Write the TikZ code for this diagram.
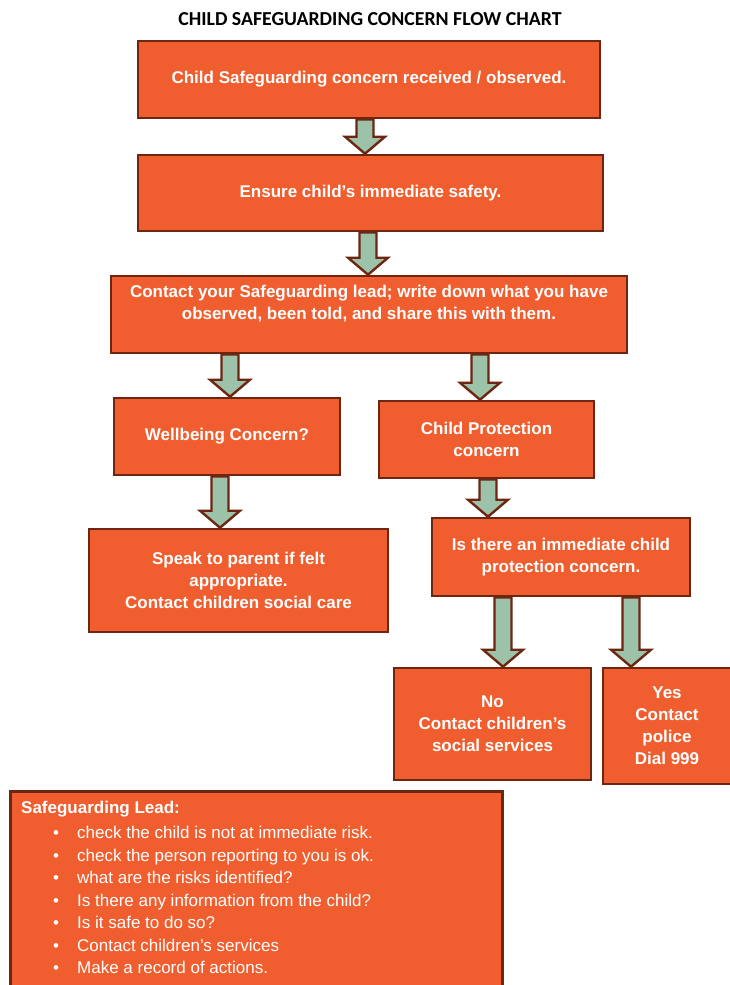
\documentclass[tikz,border=0pt]{standalone}
\usepackage{fontspec}
\setmainfont{Liberation Sans}
\newfontfamily\calibrifont{Carlito}
\usetikzlibrary{calc}
\definecolor{boxfill}{RGB}{240,94,47}
\definecolor{boxline}{RGB}{108,38,18}
\definecolor{arrfill}{RGB}{157,194,170}
\tikzset{
  x=1pt, y=1pt,
  fbox/.style={draw=boxline, line width=2.6pt, fill=boxfill, text=white, align=center,
    font=\fontsize{17}{22}\selectfont\bfseries, inner sep=2pt},
  btext/.style={text=white, align=center, font=\fontsize{17}{22}\selectfont\bfseries, inner sep=0pt},
  barrow/.style={draw=boxline, line width=2.4pt, fill=arrfill, line join=miter},
}
% #1 x position, #2 upper node, #3 lower node
\newcommand\blockarr[3]{%
  \draw[barrow] let \p1=(#2.south), \p2=(#3.north) in
    (#1-8.5,\y1) -- (#1-8.5,\y2+17) -- (#1-20,\y2+17) -- (#1,\y2) --
    (#1+20,\y2+17) -- (#1+8.5,\y2+17) -- (#1+8.5,\y1) -- cycle;}
\begin{document}
\begin{tikzpicture}
\useasboundingbox (0,0) rectangle (729,-985);
\node[font=\calibrifont\fontsize{19.8}{22}\selectfont\bfseries] (title) at (370,-19) {CHILD SAFEGUARDING CONCERN FLOW CHART};

\node[fbox, minimum width=462, minimum height=77] (b1) at (369,-79.5) {Child Safeguarding concern received / observed.};
\node[fbox, minimum width=465, minimum height=76] (b2) at (370.5,-193) {Ensure child’s immediate safety.};
\node[fbox, minimum width=516, minimum height=77] (b3) at (369,-314.5) {};
\node[btext] (b3t) at (369,-304) {Contact your Safeguarding lead; write down what you have\\observed, been told, and share this with them.};
\node[fbox, minimum width=226, minimum height=77] (b4) at (227,-436.5) {Wellbeing Concern?};
\node[fbox, minimum width=215, minimum height=77] (b5) at (486.5,-439.5) {Child Protection\\concern};
\node[fbox, minimum width=299, minimum height=103] (b6) at (238.5,-580.5) {Speak to parent if felt\\appropriate.\\Contact children social care};
\node[fbox, minimum width=258, minimum height=78] (b7) at (561,-557) {Is there an immediate child\\protection concern.};
\node[fbox, minimum width=197, minimum height=112] (b8) at (492.5,-724) {No\\Contact children’s\\social services};
\node[fbox, minimum width=128, minimum height=116] (b9) at (667,-726) {Yes\\Contact\\police\\Dial 999};
\node[fbox, minimum width=492, minimum height=210, anchor=north west] (b10) at (9,-790) {};

\node[anchor=north west, text=white, align=left, inner sep=0pt,
  font=\fontsize{17}{22.5}\selectfont] (lead) at (21,-801)
 {\textbf{Safeguarding Lead:}\\[2.5pt]
  \hspace*{32pt}\makebox[24pt][l]{•}check the child is not at immediate risk.\\
  \hspace*{32pt}\makebox[24pt][l]{•}check the person reporting to you is ok.\\
  \hspace*{32pt}\makebox[24pt][l]{•}what are the risks identified?\\
  \hspace*{32pt}\makebox[24pt][l]{•}Is there any information from the child?\\
  \hspace*{32pt}\makebox[24pt][l]{•}Is it safe to do so?\\
  \hspace*{32pt}\makebox[24pt][l]{•}Contact children’s services\\
  \hspace*{32pt}\makebox[24pt][l]{•}Make a record of actions.};

\blockarr{365}{b1}{b2}
\blockarr{368}{b2}{b3}
\blockarr{230}{b3}{b4}
\blockarr{480}{b3}{b5}
\blockarr{220}{b4}{b6}
\blockarr{488}{b5}{b7}
\blockarr{503}{b7}{b8}
\blockarr{631}{b7}{b9}
\end{tikzpicture}
\end{document}
